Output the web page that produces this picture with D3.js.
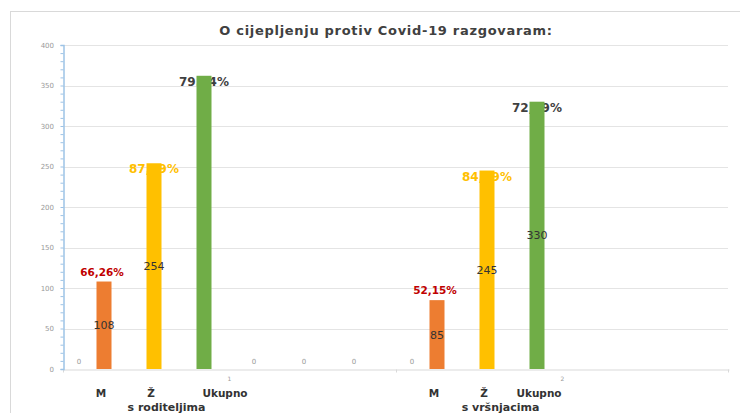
<!DOCTYPE html>
<html>
<head>
<meta charset="utf-8">
<script src="https://cdn.jsdelivr.net/npm/d3@7"></script>
<style>
	body { margin: 0; background: #fff; }
	svg { display: block; }
	text { font-family: "Comic Sans MS", "DejaVu Sans", sans-serif; }
</style>
</head>
<body>
<svg width="740" height="413"></svg>
<script>
// podaci
var categories = ["1", "2"];
var groupNames = ["s roditeljima", "s vršnjacima"];
var seriesNames = ["M", "Ž", "Ukupno"];
var mValues = [108, 85];
var zValues = [254, 245];
var ukupnoValues = [362, 330];
var mPercent = ["66,26%", "52,15%"];
var zPercent = ["87,59%", "84,49%"];
var ukupnoPercent = ["79.74%", "72,69%"];
var mCount = ["108", "85"];
var zCount = ["254", "245"];
var ukupnoCount = ["", "330"];
var leadZero = ["0", "0"];
var emptySeries = ["p1", "p2", "p3"];
var emptyZero = [["0", "0", "0"], ["", "", ""]];
var yTicks = [0, 50, 100, 150, 200, 250, 300, 350, 400];

var svg = d3.select("svg"),
	width = +svg.attr("width"),
	height = +svg.attr("height");

var colors = {"M": "#ED7D31", "Ž": "#FFC000", "Ukupno": "#70AD47"};
var pctColors = {"M": "#C00000", "Ž": "#FFC000", "Ukupno": "#404040"};

var plotLeft = 63, plotRight = 729, plotTop = 45, plotBottom = 369;

// okvir
svg.append("rect")
	.attr("x", 10.5).attr("y", 11.5)
	.attr("width", 740).attr("height", 420)
	.attr("fill", "none")
	.attr("stroke", "#d9d9d9");

svg.append("text")
	.attr("x", 386).attr("y", 35)
	.attr("text-anchor", "middle")
	.style("font-size", "13px")
	.style("font-weight", "bold")
	.style("letter-spacing", "0.7px")
	.attr("fill", "#404040")
	.text("O cijepljenju protiv Covid-19 razgovaram:");

var y = d3.scaleLinear().domain([0, 400]).range([plotBottom, plotTop]);
var x0 = d3.scaleBand().domain(categories).range([plotLeft, plotRight]);
var x1 = d3.scaleBand().domain(seriesNames.concat(emptySeries)).range([16, 316]);
var barW = 15;

// mreza
svg.append("g")
	.selectAll("line")
	.data(yTicks.filter(function(d){ return d > 0; }))
	.enter().append("line")
	.attr("x1", plotLeft).attr("x2", plotRight - 1)
	.attr("y1", function(d){ return Math.round(y(d)) + 0.5; })
	.attr("y2", function(d){ return Math.round(y(d)) + 0.5; })
	.attr("stroke", "#e4e4e4");

// x os
var xAxis = svg.append("g")
	.attr("transform", "translate(0," + (plotBottom + 0.5) + ")")
	.call(d3.axisBottom(x0).tickSize(0).tickFormat(""));
xAxis.select(".domain").attr("stroke", "#d9d9d9");
xAxis.selectAll(".tick").remove();
xAxis.selectAll(".sep")
	.data([plotLeft, x0("2"), plotRight - 1])
	.enter().append("line")
	.attr("x1", function(d){ return d + 0.5; })
	.attr("x2", function(d){ return d + 0.5; })
	.attr("y1", 0).attr("y2", 3)
	.attr("stroke", "#d9d9d9");

// y os
var yAxis = svg.append("g")
	.attr("transform", "translate(" + (plotLeft + 0.5) + ",0)")
	.call(d3.axisLeft(y).tickValues(d3.range(0, 401, 10)).tickSize(3).tickFormat(""));
yAxis.select(".domain").attr("stroke", "#9DC3E6").attr("stroke-width", 1.5);
yAxis.selectAll(".tick line").attr("stroke", "#9DC3E6");
svg.append("g").selectAll("text")
	.data(yTicks)
	.enter().append("text")
	.attr("x", 54).attr("y", function(d){ return y(d) + 2.5; })
	.attr("text-anchor", "end")
	.style("font-size", "7px")
	.attr("fill", "#999")
	.text(function(d){ return d; });

var groups = categories.map(function(c, i) {
	return {
		cat: c,
		i: i,
		bars: [
			{s: "M", v: mValues[i], pct: mPercent[i], cnt: mCount[i]},
			{s: "Ž", v: zValues[i], pct: zPercent[i], cnt: zCount[i]},
			{s: "Ukupno", v: ukupnoValues[i], pct: ukupnoPercent[i], cnt: ukupnoCount[i]}
		]
	};
});

var g = svg.selectAll(".grp")
	.data(groups)
	.enter().append("g")
	.attr("class", "grp")
	.attr("transform", function(d){ return "translate(" + x0(d.cat) + ",0)"; });

function cx(s) { return x1(s) + x1.bandwidth() / 2; }

// postotci (ispod stupaca)
g.selectAll(".pct")
	.data(function(d){ return d.bars; })
	.enter().append("text")
	.attr("class", "pct")
	.attr("x", function(d){ return cx(d.s) - (d.s == "M" ? 2 : 0); })
	.attr("y", function(d){ return y(d.v) + (d.s == "M" ? -6 : 10); })
	.attr("text-anchor", "middle")
	.style("font-size", function(d){ return d.s == "M" ? "10.5px" : "12px"; })
	.style("font-weight", "bold")
	.attr("fill", function(d){ return pctColors[d.s]; })
	.text(function(d){ return d.pct; });

g.selectAll(".bar")
	.data(function(d){ return d.bars; })
	.enter().append("rect")
	.attr("class", "bar")
	.attr("x", function(d){ return cx(d.s) - barW / 2; })
	.attr("width", barW)
	.attr("y", function(d){ return y(d.v); })
	.attr("height", function(d){ return y(0) - y(d.v); })
	.attr("fill", function(d){ return colors[d.s]; });

g.selectAll(".cnt")
	.data(function(d){ return d.bars; })
	.enter().append("text")
	.attr("class", "cnt")
	.attr("x", function(d){ return cx(d.s); })
	.attr("y", function(d){ return y(d.v / 2) + 4; })
	.attr("text-anchor", "middle")
	.style("font-size", "11px")
	.attr("fill", "#333")
	.text(function(d){ return d.cnt; });

// nule
g.append("text")
	.attr("x", x1.range()[0])
	.attr("y", y(0) - 5)
	.attr("text-anchor", "middle")
	.style("font-size", "7px")
	.attr("fill", "#999")
	.text(function(d){ return leadZero[d.i]; });

g.selectAll(".zero")
	.data(function(d){ return emptySeries.map(function(s, k){ return {s: s, t: emptyZero[d.i][k]}; }); })
	.enter().append("text")
	.attr("class", "zero")
	.attr("x", function(d){ return cx(d.s); })
	.attr("y", y(0) - 5)
	.attr("text-anchor", "middle")
	.style("font-size", "7px")
	.attr("fill", "#999")
	.text(function(d){ return d.t; });

// oznake kategorija
g.append("text")
	.attr("x", x0.bandwidth() / 2)
	.attr("y", plotBottom + 12)
	.attr("text-anchor", "middle")
	.style("font-size", "6px")
	.attr("fill", "#999")
	.text(function(d){ return d.cat; });

g.selectAll(".sname")
	.data(function(d){ return d.bars.map(function(b){ return {s: b.s, i: d.i}; }); })
	.enter().append("text")
	.attr("class", "sname")
	.attr("x", function(d){ return cx(d.s) - 3 + (d.s == "Ukupno" ? (d.i == 0 ? 24 : 5) : 0); })
	.attr("y", 397)
	.attr("text-anchor", "middle")
	.style("font-size", "10.5px")
	.style("font-weight", "bold")
	.attr("fill", "#333")
	.text(function(d){ return d.s; });

g.append("text")
	.attr("x", function(d){ return x0.bandwidth() / 2 - 63 + d.i * 1; })
	.attr("y", 411)
	.attr("text-anchor", "middle")
	.style("font-size", "11px")
	.style("font-weight", "bold")
	.attr("fill", "#333")
	.text(function(d){ return groupNames[d.i]; });
</script>
</body>
</html>
